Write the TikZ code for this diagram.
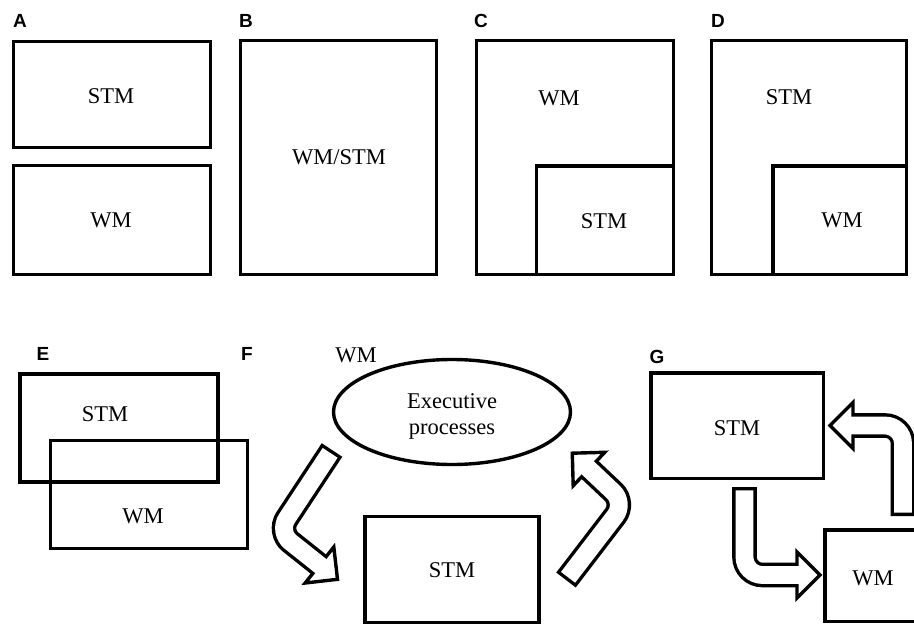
\documentclass[tikz,border=0pt]{standalone}
\usepackage{fontspec}
\setmainfont{Liberation Serif}
\newfontfamily\labfont{Liberation Sans}
\usetikzlibrary{shapes.geometric}
\begin{document}
\begin{tikzpicture}[x=1pt,y=-1pt,
  box/.style={draw, line width=3.4pt, rectangle, inner sep=0pt, outer sep=0pt},
  ell/.style={draw, line width=3.4pt, ellipse, inner sep=0pt, outer sep=0pt},
  txt/.style={font=\fontsize{22.5}{26}\selectfont, inner sep=0pt, anchor=base},
  lab/.style={font=\labfont\bfseries\fontsize{19}{22}\selectfont, inner sep=0pt},
  edge/.style={line width=3.4pt},
  shaftout/.style={line width=24.6pt, black, line cap=butt, rounded corners=#1},
  shaftin/.style={line width=17.8pt, white, line cap=butt, rounded corners=#1, shorten <=3.4pt, shorten >=-4pt},
  headtri/.style={line width=3.4pt, fill=white, draw=black, line join=miter},
]
\useasboundingbox (0,0) rectangle (914,626);
\clip (0,0) rectangle (914,626);

% ---------- labels ----------
\node[lab] (labA) at (20,21) {A};
\node[lab] (labB) at (246,21) {B};
\node[lab] (labC) at (481,21) {C};
\node[lab] (labD) at (718,21) {D};
\node[lab] (labE) at (43,353.5) {E};
\node[lab] (labF) at (247,353.5) {F};
\node[lab] (labG) at (657,357) {G};

% ---------- A ----------
\node[box, minimum width=197pt, minimum height=106pt] (a1) at (112,94.5) {};
\node[box, minimum width=197pt, minimum height=109pt] (a2) at (112,220) {};
\node[txt] (a1t) at (111,103.5) {STM};
\node[txt] (a2t) at (111,227.5) {WM};

% ---------- B ----------
\node[box, minimum width=196pt, minimum height=234pt] (b1) at (338.5,157.5) {};
\node[txt] (b1t) at (339,164.5) {WM/STM};

% ---------- C ----------
\node[box, minimum width=197pt, minimum height=234pt] (c1) at (575,157.5) {};
\coordinate (c2a) at (536.7,274.5);
\coordinate (c2b) at (536.7,166);
\coordinate (c2c) at (673.5,166);
\draw[edge] (c2a) -- (c2b) -- (c2c);
\node[txt] (c1t) at (559,105.5) {WM};
\node[txt] (c2t) at (604,228.5) {STM};

% ---------- D ----------
\node[box, minimum width=195pt, minimum height=234pt] (d1) at (809,157.5) {};
\coordinate (d2a) at (773,274.5);
\coordinate (d2b) at (773,166);
\coordinate (d2c) at (906.5,166);
\draw[edge] (d2a) -- (d2b) -- (d2c);
\node[txt] (d1t) at (789,104.5) {STM};
\node[txt] (d2t) at (842,227.5) {WM};

% ---------- E ----------
\node[box, minimum width=198pt, minimum height=108pt] (e1) at (119,428) {};
\node[box, minimum width=197pt, minimum height=108pt] (e2) at (149,494.5) {};
\node[txt] (e1t) at (105,421.5) {STM};
\node[txt] (e2t) at (143,523.5) {WM};

% ---------- F ----------
\node[txt] (fwm) at (356,362.5) {WM};
\node[ell, minimum width=237pt, minimum height=105pt] (fexec) at (452,412) {};
\node[font=\fontsize{22.5}{26}\selectfont, align=center, inner sep=0pt] (fexect) at (452,416) {Executive\\processes};
\node[box, minimum width=174pt, minimum height=106pt] (fstm) at (452,569.5) {};
\node[txt] (fstmt) at (452,577.5) {STM};

% arrow: executive -> STM
\coordinate (f1t) at (332,450);
\coordinate (f1b) at (278,532);
\coordinate (f1h) at (319.5,565);
\draw[shaftout=16pt] (f1t) -- (f1b) -- (f1h);
\begin{scope}[shift={(f1h)},rotate=-38.5]
  \draw[headtri] (0,-23) -- (23,0) -- (0,23) -- cycle;
\end{scope}
\draw[shaftin=16pt] (f1t) -- (f1b) -- (f1h);

% arrow: STM -> executive
\coordinate (f2t) at (566,580);
\coordinate (f2b) at (625,503);
\coordinate (f2h) at (589,469);
\draw[shaftout=16pt] (f2t) -- (f2b) -- (f2h);
\begin{scope}[shift={(f2h)},rotate=136.6]
  \draw[headtri] (0,-23) -- (23,0) -- (0,23) -- cycle;
\end{scope}
\draw[shaftin=16pt] (f2t) -- (f2b) -- (f2h);

% ---------- G ----------
\node[box, minimum width=172.5pt, minimum height=105.5pt] (gstm) at (737.25,425.75) {};
\node[txt] (gstmt) at (737,435.5) {STM};
\node[box, minimum width=96pt, minimum height=91.5pt] (gwm) at (873,575.75) {};
\node[txt] (gwmt) at (873,585.5) {WM};

% arrow: STM -> WM
\coordinate (g1t) at (744.5,487);
\coordinate (g1b) at (744.5,575);
\coordinate (g1h) at (797,575);
\draw[shaftout=18pt] (g1t) -- (g1b) -- (g1h);
\begin{scope}[shift={(g1h)},rotate=0]
  \draw[headtri] (0,-23) -- (23,0) -- (0,23) -- cycle;
\end{scope}
\draw[shaftin=18pt] (g1t) -- (g1b) -- (g1h);

% arrow: WM -> STM
\coordinate (g2t) at (903,516);
\coordinate (g2b) at (903,425.5);
\coordinate (g2h) at (853,425.5);
\draw[shaftout=18pt] (g2t) -- (g2b) -- (g2h);
\begin{scope}[shift={(g2h)},rotate=180]
  \draw[headtri] (0,-23) -- (23,0) -- (0,23) -- cycle;
\end{scope}
\draw[shaftin=18pt] (g2t) -- (g2b) -- (g2h);
\end{tikzpicture}
\end{document}
